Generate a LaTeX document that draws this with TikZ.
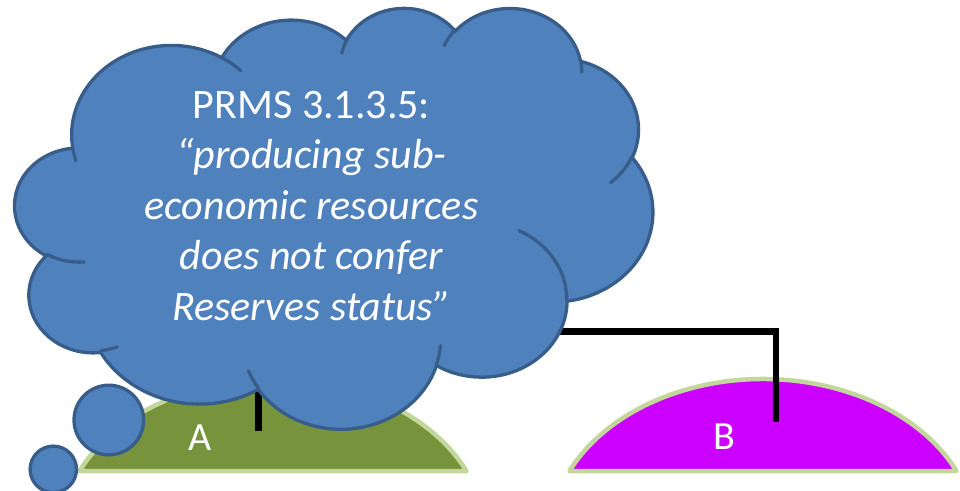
\documentclass[tikz,border=0pt]{standalone}
\usepackage{fontspec}
\setmainfont{Carlito}
\definecolor{cloudfill}{HTML}{4F81BD}
\definecolor{cloudborder}{HTML}{385D8A}
\definecolor{moundAfill}{HTML}{77933C}
\definecolor{moundBfill}{HTML}{CC00FF}
\definecolor{moundborder}{HTML}{C3D69B}
\begin{document}
\begin{tikzpicture}[x=1pt,y=1pt,
  cloudline/.style={draw=cloudborder, line width=3.3pt},
  moundshape/.style={draw=moundborder, line width=4.5pt, line join=round},
  link/.style={draw=black, line width=6.5pt, line join=miter},
  lbl/.style={text=white, font=\fontsize{40}{48}\selectfont, anchor=base, inner sep=0pt}]
\useasboundingbox (0,0) rectangle (960,-490);
% mounds
\coordinate (mA) at (273,-537);
\coordinate (mB) at (763,-537);
\draw[moundshape, fill=moundAfill] ([shift={(193.5,66)}]mA) arc[start angle=24.69, end angle=155.31, x radius=213pt, y radius=158pt] -- cycle;
\draw[moundshape, fill=moundBfill] ([shift={(193.5,66)}]mB) arc[start angle=24.69, end angle=155.31, x radius=213pt, y radius=158pt] -- cycle;
% connector (partly hidden by the cloud)
\coordinate (ca) at (258.7,-430.7);
\coordinate (cb) at (776,-421.7);
\coordinate (cm) at (517,-331.7);
\draw[link] (ca) |- (cm) -| (cb);
% labels
\node[lbl] (labA) at (200.5,-450.5) {A};
\node[lbl] (labB) at (724,-449.5) {B};
% thought bubbles
\draw[cloudline, fill=cloudfill] (108.8,-420) circle[radius=34.8pt];
\draw[cloudline, fill=cloudfill] (53.3,-469.3) circle[radius=23.2pt];
% cloud
\begin{scope}[shift={(15pt,-7pt)}, xscale=1.476852, yscale=-0.974537, x=0.01pt, y=0.01pt]
\draw[cloudline, fill=cloudfill] (3900,14370)
  \foreach \pa/\pb/\pc/\pd [evaluate={\pa as \ra using \pa*0.01},
      evaluate={\pb as \rb using \pb*0.01},
      evaluate={\pc as \ts using atan2(\pa*sin(\pc),\pb*cos(\pc))},
      evaluate={\pd as \dd using mod(atan2(\pa*sin(\pc+\pd),\pb*cos(\pc+\pd))-atan2(\pa*sin(\pc),\pb*cos(\pc))+720,360)}] in
  {6753/9190/-190.4875/123.7805,
   5333/7267/-144.1024/89.9452,
   4365/5945/-145.8079/99.7230,
   4857/6595/-130.9861/117.2417,
   5333/7273/-78.7089/109.0269,
   6775/9220/-46.2673/130.2690,
   5785/7867/0.6250/114.0333,
   6752/9215/22.4516/115.1726,
   7720/10543/66.2426/75.7110,
   4360/5918/-274.9421/146.7356,
   4345/5945/-246.8285/152.5189}
  { arc[start angle=\ts, delta angle=\dd, x radius=\ra pt, y radius=\rb pt] } -- cycle;
\draw[cloudline, line cap=round]
  \foreach \px/\py/\pa/\pb/\pc/\pd [evaluate={\pa as \ra using \pa*0.01},
      evaluate={\pb as \rb using \pb*0.01},
      evaluate={\pc as \ts using atan2(\pa*sin(\pc),\pb*cos(\pc))},
      evaluate={\pd as \dd using mod(atan2(\pa*sin(\pc+\pd),\pb*cos(\pc+\pd))-atan2(\pa*sin(\pc),\pb*cos(\pc))+720,360)}] in
  {4693/26177/4345/5945/86.7420/26.4295,
   6928/34899/4360/5918/73.6105/11.4475,
   16478/39090/6752/9215/137.6242/14.0811,
   28827/34751/6752/9215/6.4533/15.9984,
   34129/22954/5785/7867/-70.2924/70.9174,
   41798/15354/5333/7273/30.3180/27.7515,
   38324/5426/4857/6595/-13.7443/14.8589,
   29078/3952/4857/6595/-149.1815/18.1954,
   22141/4720/4365/5945/-163.4943/20.5975,
   14000/5192/6753/9190/-66.7070/12.3194,
   4127/15789/6753/9190/157.6544/11.8582}
  { (\px,\py) arc[start angle=\ts, delta angle=\dd, x radius=\ra pt, y radius=\rb pt] };
\end{scope}
\node[text=white, align=center, font=\fontsize{42}{50.6}\selectfont, anchor=base, inner sep=0pt] (cloudtext) at (311.5,-320.5)
  {PRMS 3.1.3.5:\\\textit{“producing sub-}\\\textit{economic resources}\\\textit{does not confer}\\\textit{Reserves status”}};
\end{tikzpicture}
\end{document}
